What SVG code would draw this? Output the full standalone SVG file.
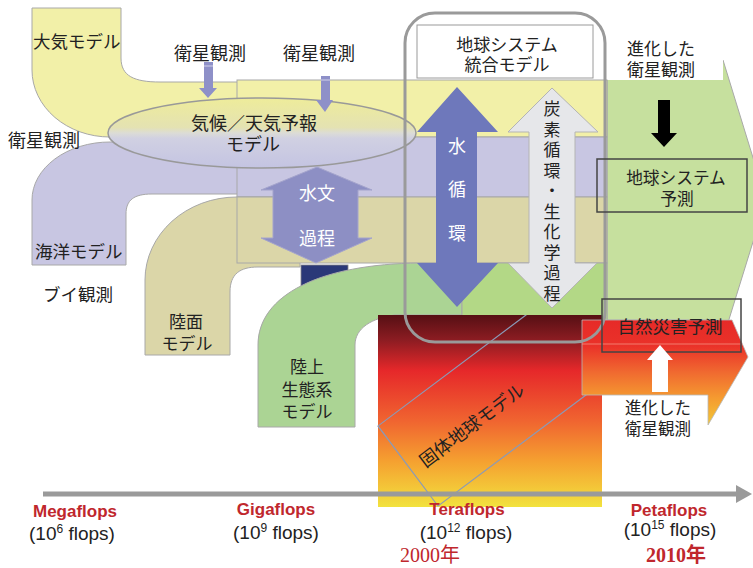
<svg xmlns="http://www.w3.org/2000/svg" width="753" height="568" viewBox="0 0 753 568">
<style>
.jp{font-family:"Noto Sans CJK JP","Noto Sans CJK SC",sans-serif;fill:#222;dominant-baseline:central}
.w{fill:#fff}
.band{stroke:#a8a8a8;stroke-width:1}
.flop{font-family:"Liberation Sans",Arial,sans-serif;font-weight:bold;font-size:17px;fill:#c0272d;text-anchor:middle}
.fl{font-family:"Liberation Sans",Arial,sans-serif;font-size:19px;fill:#222;text-anchor:middle}
.yr{font-family:"Liberation Serif","Noto Sans CJK JP",serif;font-size:20px;fill:#c0272d;text-anchor:middle}
.mid{text-anchor:middle}
</style>
<defs>
<linearGradient id="ell" x1="0" y1="98" x2="0" y2="168" gradientUnits="userSpaceOnUse">
<stop offset="0" stop-color="#eeec9a"/>
<stop offset="0.42" stop-color="#e4e2b2"/>
<stop offset="0.5" stop-color="#dcdcd6"/>
<stop offset="0.58" stop-color="#d0d0e2"/>
<stop offset="1" stop-color="#c4c4e2"/>
</linearGradient>
<linearGradient id="earth" x1="0" y1="315" x2="0" y2="507" gradientUnits="userSpaceOnUse">
<stop offset="0" stop-color="#561014"/>
<stop offset="0.13" stop-color="#8c1c22"/>
<stop offset="0.29" stop-color="#e6282a"/>
<stop offset="0.55" stop-color="#f06430"/>
<stop offset="0.76" stop-color="#f5a030"/>
<stop offset="1" stop-color="#f2e23e"/>
</linearGradient>
<linearGradient id="hazard" x1="0" y1="320" x2="0" y2="425" gradientUnits="userSpaceOnUse">
<stop offset="0" stop-color="#e62a28"/>
<stop offset="0.25" stop-color="#ea3229"/>
<stop offset="0.5" stop-color="#f06a30"/>
<stop offset="0.75" stop-color="#f59c30"/>
<stop offset="1" stop-color="#f2c838"/>
</linearGradient>
<clipPath id="solidclip"><rect x="376" y="315" width="228" height="200"/></clipPath>
</defs>
<rect width="753" height="568" fill="#fff"/>

<g id="future-arrow">
<polygon points="607,60 723,60 766,200 722,342 715,320 607,320" fill="#c6e09e" stroke="#a8a8a8" stroke-width="1"/>
<rect x="604" y="20" width="119" height="60" fill="#fff"/>
</g>

<g id="atmosphere">
<path class="band" d="M32,8 H121 V58 C121,76 134,82 160,82 H238 V137 H110 A78 67 0 0 1 32,70 Z" fill="#f2f0a8"/>
<rect class="band" x="237" y="80" width="370" height="57" fill="#f2f0a8"/>
<text class="jp" x="33" y="40" font-size="17.5">大気モデル</text>
</g>

<g id="ocean">
<path class="band" d="M32,265 V200 A78 58 0 0 1 110,142 H238 V194 H152 C134,194 126,200 126,214 V265 Z" fill="#c8c6e2"/>
<rect class="band" x="237" y="137" width="370" height="60" fill="#c8c6e2"/>
<text class="jp" x="35" y="250" font-size="17.5">海洋モデル</text>
</g>

<g id="land">
<path class="band" d="M145,355 V280 A92 83 0 0 1 237,197 H300 V267 H258 C240,267 230,274 230,292 V355 Z" fill="#dbd6a8"/>
<rect class="band" x="237" y="197" width="370" height="66" fill="#dbd6a8"/>
<text class="jp mid" x="186" y="320" font-size="17">陸面</text>
<text class="jp mid" x="187" y="342" font-size="17">モデル</text>
</g>

<g id="navy-block">
<rect x="301" y="265" width="47" height="32" fill="#2a3878" stroke="#888" stroke-width="0.8"/>
</g>

<g id="ecosystem">
<path class="band" d="M258,427 V345 C258,295 320,264 420,263 H462 V315 H395 C372,318 355,328 355,345 V427 Z" fill="#abd494"/>
<rect class="band" x="462" y="263" width="145" height="59" fill="#b3d886"/>
<text class="jp mid" x="307" y="365" font-size="17">陸上</text>
<text class="jp mid" x="307" y="388" font-size="17">生態系</text>
<text class="jp mid" x="307" y="410" font-size="17">モデル</text>
</g>

<g id="solid-earth">
<rect x="378" y="315" width="224" height="192" fill="url(#earth)"/>
<g clip-path="url(#solidclip)">
<rect x="378" y="426" width="280" height="100" transform="rotate(-36.87 378 426)" fill="none" stroke="#8a9ab8" stroke-width="1.2"/>
</g>
<text class="jp mid" x="471" y="424" font-size="18" transform="rotate(-36.87 471 424)">固体地球モデル</text>
</g>

<g id="hazard-arrow">
<polygon points="582,320 732,320 748,357 708,425 708,395 582,395" fill="url(#hazard)" stroke="#b8b8b8" stroke-width="0.8"/>
<line x1="582" y1="344" x2="741" y2="344" stroke="#f59080" stroke-width="0.8"/>
</g>

<g id="climate-model">
<ellipse cx="262" cy="133" rx="154" ry="35" fill="url(#ell)" stroke="#999" stroke-width="1.5"/>
<text class="jp mid" x="254" y="122" font-size="18">気候／天気予報</text>
<text class="jp mid" x="253" y="143" font-size="18">モデル</text>
</g>

<g id="hydrology">
<path d="M317,167 L372,190 L358,190 L358,238 L372,238 L316,263 L261,238 L273,238 L273,190 L261,190 Z" fill="#8d8fc4" stroke="#a4a4cc" stroke-width="1"/>
<text class="jp mid w" x="317" y="192" font-size="18">水文</text>
<text class="jp mid w" x="317" y="237" font-size="18">過程</text>
</g>

<g id="water-cycle">
<path d="M457,87 L498,132 L477,132 L477,263 L498,263 L457,307 L417,263 L436,263 L436,132 L417,132 Z" fill="#6e78bb"/>
<text class="jp mid w" font-size="18"><tspan x="457" y="145">水</tspan><tspan x="457" y="188">循</tspan><tspan x="457" y="232">環</tspan></text>
</g>

<g id="carbon-cycle">
<path d="M552,88 L598,132 L575,132 L575,263 L597,263 L552,308 L508,263 L529,263 L529,132 L508,132 Z" fill="#e6e7ea" stroke="#b4b4b4" stroke-width="1"/>
<text class="jp mid" font-size="17" fill="#333"><tspan x="552" y="107">炭</tspan><tspan x="552" y="127.5">素</tspan><tspan x="552" y="148">循</tspan><tspan x="552" y="168.5">環</tspan><tspan x="552" y="189">・</tspan><tspan x="552" y="209.5">生</tspan><tspan x="552" y="230">化</tspan><tspan x="552" y="250.5">学</tspan><tspan x="552" y="271">過</tspan><tspan x="552" y="291.5">程</tspan></text>
</g>

<g id="integrated-model">
<rect x="405" y="13" width="200" height="329" rx="30" ry="30" fill="none" stroke="#9a9a9a" stroke-width="3"/>
<rect x="417" y="25" width="176" height="53" fill="#fff" stroke="#9a9a9a" stroke-width="1"/>
<text class="jp mid" x="507" y="43" font-size="17">地球システム</text>
<text class="jp mid" x="507" y="63" font-size="17">統合モデル</text>
</g>

<g id="satellite-obs">
<text class="jp" x="8" y="139" font-size="18">衛星観測</text>
<text class="jp mid" x="210" y="52" font-size="18">衛星観測</text>
<text class="jp mid" x="319" y="52" font-size="18">衛星観測</text>
<text class="jp" x="43" y="293" font-size="17.5">ブイ観測</text>
<path d="M204,62 H213 V88 H217 L208,98 L199,88 H204 Z" fill="#8e90c8"/>
<path d="M321,76 H330 V100 H333 L325,112 L316,100 H321 Z" fill="#8e90c8"/>
<line x1="204" y1="66" x2="213" y2="66" stroke="#c8c8e4" stroke-width="1.2"/>
<line x1="321" y1="80" x2="330" y2="80" stroke="#c8c8e4" stroke-width="1.2"/>
</g>

<g id="advanced-obs-top">
<text class="jp" x="627" y="47" font-size="17">進化した</text>
<text class="jp" x="627" y="68" font-size="17">衛星観測</text>
<path d="M658,100 H670 V133 H677 L664,147 L651,133 H658 Z" fill="#000"/>
</g>

<g id="earth-prediction">
<rect x="597" y="159" width="150" height="53" fill="none" stroke="#444" stroke-width="1.5"/>
<text class="jp mid" x="676" y="177" font-size="16.7">地球システム</text>
<text class="jp mid" x="677" y="198" font-size="16.7">予測</text>
</g>

<g id="hazard-prediction">
<rect x="602" y="299" width="139" height="53" fill="none" stroke="#444" stroke-width="1.5"/>
<text class="jp mid" x="670" y="325" font-size="17.5">自然災害予測</text>
<path d="M660,345 L673,360 H668 V392 H652 V360 H647 Z" fill="#fff"/>
<text class="jp" x="625" y="407" font-size="16.5">進化した</text>
<text class="jp" x="625" y="428" font-size="16.5">衛星観測</text>
</g>

<g id="connectors">
<line x1="43" y1="494" x2="738" y2="494" stroke="#9a9a9a" stroke-width="5"/>
<polygon points="736,485 752,494 736,503" fill="#9a9a9a"/>
</g>

<g id="axis-labels">
<text class="flop" x="75" y="517">Megaflops</text>
<text class="fl" x="72" y="540">(10<tspan dy="-7" font-size="12">6</tspan><tspan dy="7"> flops)</tspan></text>
<text class="flop" x="276" y="515">Gigaflops</text>
<text class="fl" x="276" y="539">(10<tspan dy="-7" font-size="12">9</tspan><tspan dy="7"> flops)</tspan></text>
<text class="flop" x="467" y="515">Teraflops</text>
<text class="fl" x="466" y="539">(10<tspan dy="-7" font-size="12">12</tspan><tspan dy="7"> flops)</tspan></text>
<text class="flop" x="669" y="516">Petaflops</text>
<text class="fl" x="670" y="536">(10<tspan dy="-7" font-size="12">15</tspan><tspan dy="7"> flops)</tspan></text>
<text class="yr" x="430" y="562">2000年</text>
<text class="yr" x="676" y="562" font-weight="bold">2010年</text>
</g>
</svg>
